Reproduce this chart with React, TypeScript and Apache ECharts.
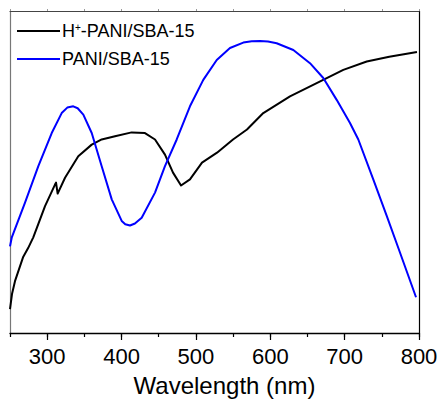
import React, { useEffect, useRef } from "react";
import * as echarts from "echarts";

const xTicks = [300, 400, 500, 600, 700, 800];
const seriesNames = ["H+-PANI/SBA-15", "PANI/SBA-15"];

const hPaniWavelength = [250, 252.7, 256.7, 263.4, 267.5, 274.2, 281.3, 297.1, 310.5, 311.9, 314.1, 324, 341.8, 359.9, 373.3, 391.2, 413.6, 431.5, 445, 458.4, 469.2, 480, 492, 508.2, 528.4, 549.9, 568.7, 590.6, 626.5, 662.4, 698.2, 729.7, 760, 797.3];
const hPaniAbs = [7.4, 12.1, 16.1, 20.7, 23.5, 26.3, 29.7, 39.4, 46.1, 46.7, 43.3, 48.2, 54.9, 58.5, 60.1, 61.1, 62.3, 62.1, 60.1, 55.4, 49.8, 45.8, 47.7, 52.9, 56.0, 60.1, 63.2, 68.3, 73.5, 77.6, 81.7, 84.3, 85.8, 87.3];

const paniWavelength = [250, 252.3, 270.2, 288.1, 306.1, 319.5, 327, 335.1, 341, 348.6, 359.9, 373.3, 386.8, 400.2, 405, 411.4, 418, 427.1, 445, 458.4, 474.2, 492, 509.9, 528, 545.8, 563.7, 575, 586.2, 597, 608.6, 631, 653.4, 671.3, 689.3, 707.2, 718.4, 738.5, 756.6, 774.4, 796];
const paniAbs = [26.9, 29.6, 40.5, 51.8, 62.1, 68.3, 70.0, 70.4, 69.8, 67.8, 62.1, 51.8, 41.5, 34.8, 33.8, 33.4, 34.0, 35.8, 43.6, 51.8, 60.1, 70.4, 78.6, 84.8, 88.5, 90.2, 90.6, 90.7, 90.5, 90.0, 87.9, 83.8, 79.2, 72.4, 65.2, 60.1, 47.7, 36.4, 25.0, 11.1];

export default function App() {
  const ref = useRef<HTMLDivElement>(null);
  useEffect(() => {
    if (!ref.current) return;
    const chart = echarts.init(ref.current, undefined, { renderer: "svg" });
    const zip = (xs: number[], ys: number[]) => xs.map((x, i) => [x, ys[i]]);
    chart.setOption({
      animation: false,
      backgroundColor: "#ffffff",
      textStyle: { fontFamily: "Liberation Sans, Arial, sans-serif" },
      grid: { left: 10, right: 24, top: 11, bottom: 68 },
      legend: {
        orient: "vertical",
        left: 12,
        top: 17,
        itemWidth: 43,
        itemHeight: 14,
        itemGap: 10,
        icon: "path://M0,6 L43,6 L43,8 L0,8 Z",
        data: seriesNames,
        textStyle: {
          fontSize: 18,
          color: "#000",
          fontFamily: "Liberation Sans, Arial, sans-serif",
          padding: [0, 0, 0, -3],
          rich: {
            sup: { fontSize: 10, verticalAlign: "top", padding: [0, 0, 8, 0], color: "#000" },
          },
        },
        formatter: (name: string) =>
          name.startsWith("H+") ? "H{sup|+}" + name.slice(2) : name,
      },
      xAxis: [
        {
          type: "value",
          min: 250,
          max: 800,
          interval: 50,
          position: "bottom",
          axisLine: { show: true, lineStyle: { color: "#000", width: 1.3 } },
          axisTick: { show: true, length: 4, lineStyle: { color: "#000", width: 1.2 } },
          axisLabel: { show: false },
          splitLine: { show: false },
        },
        {
          type: "value",
          min: 250,
          max: 800,
          interval: 50,
          position: "bottom",
          axisLine: { show: false },
          axisTick: { show: true, length: 7, customValues: xTicks, lineStyle: { color: "#000", width: 1.2 } },
          axisLabel: {
            fontSize: 22,
            color: "#000",
            margin: 12,
            customValues: xTicks,
          },
          splitLine: { show: false },
          name: "Wavelength (nm)",
          nameLocation: "middle",
          nameGap: 40,
          nameTextStyle: { fontSize: 24, color: "#000", padding: [0, 0, 0, 20] },
        },
        {
          type: "value",
          min: 250,
          max: 800,
          interval: 50,
          position: "top",
          axisLine: { show: true, lineStyle: { color: "#444", width: 1.2 } },
          axisTick: { show: true, length: 2, lineStyle: { color: "#999" } },
          axisLabel: { show: false },
          splitLine: { show: false },
        },
      ],
      yAxis: [
        {
          type: "value",
          min: 0,
          max: 100,
          position: "left",
          axisLine: { show: true, lineStyle: { color: "#777", width: 1.2 } },
          axisTick: { show: false },
          axisLabel: { show: false },
          splitLine: { show: false },
        },
        {
          type: "value",
          min: 0,
          max: 100,
          position: "right",
          axisLine: { show: true, lineStyle: { color: "#000", width: 1.2 } },
          axisTick: { show: false },
          axisLabel: { show: false },
          splitLine: { show: false },
        },
      ],
      series: [
        {
          name: seriesNames[0],
          type: "line",
          xAxisIndex: 0,
          yAxisIndex: 0,
          data: zip(hPaniWavelength, hPaniAbs),
          showSymbol: false,
          symbol: "none",
          smooth: false,
          lineStyle: { color: "#000000", width: 2, join: "round" },
          itemStyle: { color: "#000000" },
        },
        {
          name: seriesNames[1],
          type: "line",
          xAxisIndex: 0,
          yAxisIndex: 0,
          data: zip(paniWavelength, paniAbs),
          showSymbol: false,
          symbol: "none",
          smooth: false,
          lineStyle: { color: "#0000ff", width: 2, join: "round" },
          itemStyle: { color: "#0000ff" },
        },
      ],
    });
    return () => chart.dispose();
  }, []);
  return <div ref={ref} style={{ width: 443, height: 402, position: "absolute", left: 0, top: 0 }} />;
}
